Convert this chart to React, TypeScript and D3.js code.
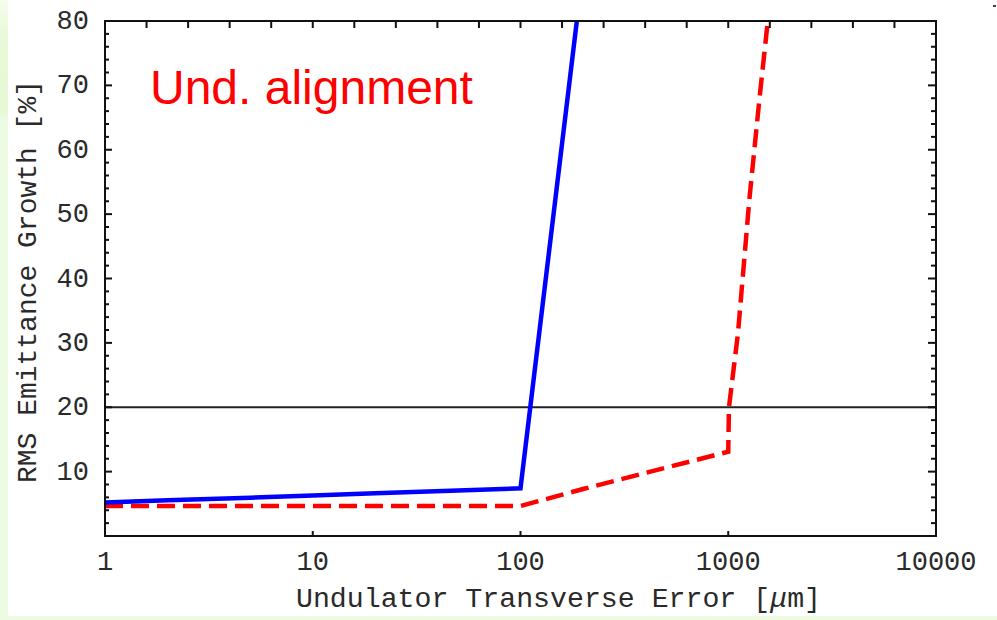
import React from "react";
import * as d3 from "d3";

const xTickValues = [1, 10, 100, 1000, 10000];
const xTickLabels = ["1", "10", "100", "1000", "10000"];
const yTickValues = [10, 20, 30, 40, 50, 60, 70, 80];
const yTickLabels = ["10", "20", "30", "40", "50", "60", "70", "80"];

const blueX = [1, 2, 5, 10, 20, 50, 100, 200];
const blueY = [5.2, 5.55, 5.95, 6.3, 6.65, 7.05, 7.4, 88];

const redX = [1, 2, 5, 10, 20, 50, 100, 200, 500, 1000, 1008, 1114, 1263, 1411, 1550, 1600];
const redY = [4.65, 4.65, 4.65, 4.65, 4.65, 4.65, 4.65, 7.3, 10.6, 13.1, 20, 31.5, 52.2, 67.7, 80, 84];

const thresholdValue = 20;
const title = "Und. alignment";
const xTitle = "Undulator Transverse Error [";
const yTitle = "RMS Emittance Growth [%]";

const W = 997;
const H = 620;
const L = 105, R = 936, T = 21, B = 536;

export default function App() {
  const x = d3.scaleLog().domain([1, 10000]).range([L, R]);
  const y = d3.scaleLinear().domain([0, 80]).range([B, T]);

  const line = d3
    .line<[number, number]>()
    .x((d) => x(d[0]))
    .y((d) => y(d[1]));

  const bluePts = blueX.map((v, i) => [v, blueY[i]] as [number, number]);
  const redPts = redX.map((v, i) => [v, redY[i]] as [number, number]);

  const topTicks: number[] = [];
  for (let k = 0; k <= 20; k++) topTicks.push(Math.pow(10, k * 0.2));
  const yMinor: number[] = [];
  for (let v = 2; v < 80; v += 2) if (v % 10 !== 0) yMinor.push(v);
  const yMajor = [10, 20, 30, 40, 50, 60, 70];

  const mono = "'Liberation Mono', 'Courier New', monospace";

  return (
    <svg
      width={W}
      height={H}
      style={{ position: "absolute", left: 0, top: 0, background: "#fff" }}
    >
      <defs>
        <clipPath id="plot">
          <rect x={L} y={T} width={R - L} height={B - T} />
        </clipPath>
        <linearGradient id="strip" x1="0" y1="0" x2="0" y2="1">
          <stop offset="0" stopColor="#f6fdf0" />
          <stop offset="0.05" stopColor="#e9f9d9" />
          <stop offset="0.18" stopColor="#e6f8d6" />
          <stop offset="0.19" stopColor="#eefbe3" />
          <stop offset="1" stopColor="#eefbe3" />
        </linearGradient>
      </defs>
      <rect x={0} y={0} width={W} height={H} fill="#fff" />
      <rect x={0} y={0} width={8} height={H} fill="url(#strip)" />
      <rect x={0} y={616} width={W} height={4} fill="#eefbe3" />
      <rect x={993} y={5} width={3} height={2} fill="#633" />

      <line
        x1={L}
        x2={R}
        y1={y(thresholdValue)}
        y2={y(thresholdValue)}
        stroke="#222"
        strokeWidth={2}
      />

      <g clipPath="url(#plot)">
        <path d={line(redPts) || ""} fill="none" stroke="#ff0000" strokeWidth={4.5} strokeDasharray="18 8" />
        <path d={line(bluePts) || ""} fill="none" stroke="#0000ff" strokeWidth={4.5} />
      </g>

      <rect x={L} y={T} width={R - L} height={B - T} fill="none" stroke="#111" strokeWidth={2} />

      {topTicks.map((t, i) => (
        <line key={"tt" + i} x1={x(t)} x2={x(t)} y1={T} y2={T + 7} stroke="#111" strokeWidth={2} />
      ))}
      {xTickValues.map((t, i) => (
        <line key={"bt" + i} x1={x(t)} x2={x(t)} y1={B} y2={B - 5} stroke="#111" strokeWidth={2} />
      ))}
      {yMajor.map((v, i) => (
        <g key={"ym" + i}>
          <line x1={L} x2={L + 7} y1={y(v)} y2={y(v)} stroke="#111" strokeWidth={2} />
          <line x1={R} x2={R - 8} y1={y(v)} y2={y(v)} stroke="#111" strokeWidth={2} />
        </g>
      ))}
      {yMinor.map((v, i) => (
        <g key={"yn" + i}>
          <line x1={L} x2={L + 4} y1={y(v)} y2={y(v)} stroke="#111" strokeWidth={2} />
          <line x1={R} x2={R - 5} y1={y(v)} y2={y(v)} stroke="#111" strokeWidth={2} />
        </g>
      ))}

      {xTickValues.map((t, i) => (
        <text
          key={"xl" + i}
          x={x(t)}
          y={570}
          textAnchor="middle"
          fontFamily={mono}
          fontSize={27}
          fill="#2a2a2a"
        >
          {xTickLabels[i]}
        </text>
      ))}
      {yTickValues.map((v, i) => (
        <text
          key={"yl" + i}
          x={89}
          y={y(v) + 8}
          textAnchor="end"
          fontFamily={mono}
          fontSize={27}
          fill="#2a2a2a"
        >
          {yTickLabels[i]}
        </text>
      ))}

      <text x={296} y={607} fontFamily={mono} fontSize={28} fill="#2a2a2a" textLength={525} lengthAdjust="spacingAndGlyphs">
        {xTitle}
        <tspan fontStyle="italic">μ</tspan>
        {"m]"}
      </text>
      <text
        transform="translate(36,483) rotate(-90)"
        x={0}
        y={0}
        fontFamily={mono}
        fontSize={28}
        fill="#2a2a2a"
        textLength={403}
        lengthAdjust="spacingAndGlyphs"
      >
        {yTitle}
      </text>

      <text x={150} y={104} fontFamily="'Liberation Sans', Arial, sans-serif" fontSize={48} fill="#ff0000">
        {title}
      </text>
    </svg>
  );
}
